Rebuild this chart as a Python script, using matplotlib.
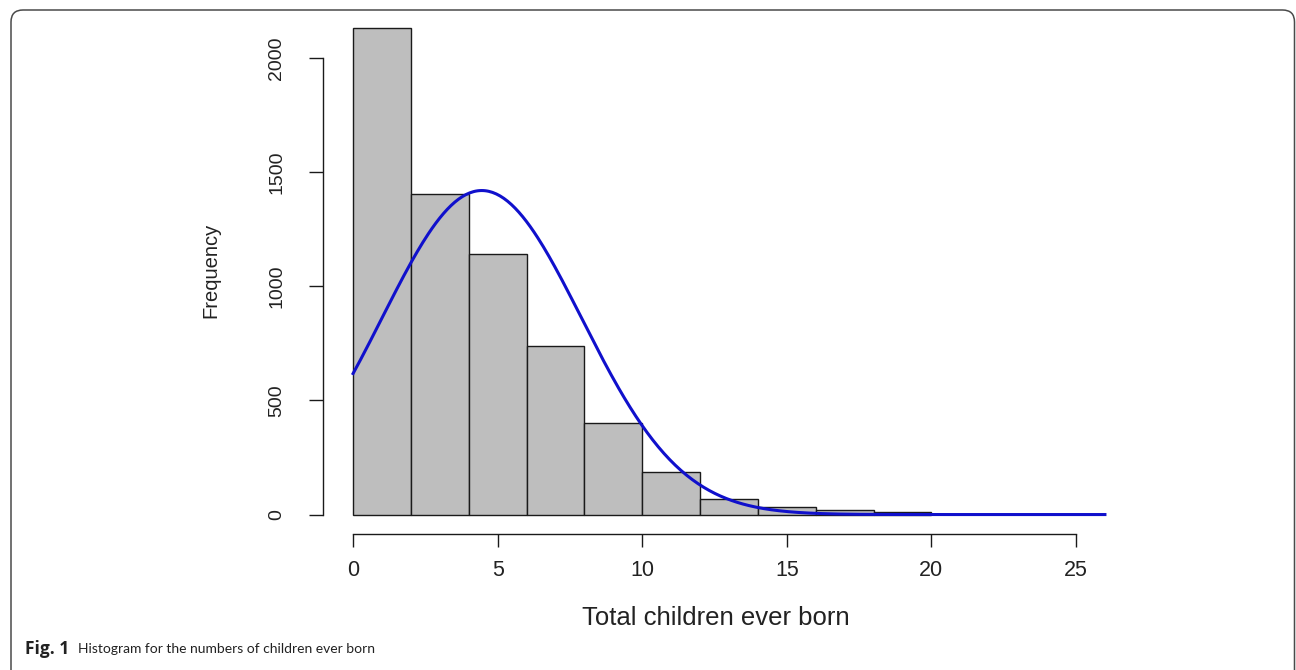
import matplotlib
matplotlib.use('Agg')
import matplotlib.pyplot as plt
import matplotlib.patches as mpatches
from matplotlib.transforms import IdentityTransform
import numpy as np

# histogram counts, bins of width 2 from 0 to 20
bin_edges = [0, 2, 4, 6, 8, 10, 12, 14, 16, 18, 20]
counts = [2130, 1405, 1140, 740, 400, 185, 70, 35, 21, 13]
# fitted normal curve (mean, sd), drawn over 0..26
fit_mean, fit_sd = 4.45, 3.45
curve_from, curve_to = 0, 26
xticks = [0, 5, 10, 15, 20, 25]
yticks = [0, 500, 1000, 1500, 2000]

BAR = '#bebebe'; EDGE = '#1a1a1a'; CURVE = '#1010cc'; BORDER = '#4a4a4a'
CHART_FONT = ['Liberation Sans', 'DejaVu Sans']
CAP_BOLD = ['Open Sans', 'DejaVu Sans']
CAP_FONT = ['Lato', 'Open Sans', 'DejaVu Sans']

W, H = 1296, 670
fig = plt.figure(figsize=(W / 100, H / 100), dpi=100)
fig.patch.set_facecolor('white')

# rounded frame of the figure panel (pixel coords, origin bottom-left)
frame = mpatches.FancyBboxPatch((11, -14), 1283.5, H - 10 + 14,
                                boxstyle='round,pad=0,rounding_size=12',
                                transform=IdentityTransform(), facecolor='none',
                                edgecolor=BORDER, linewidth=1.1)
fig.add_artist(frame)

ax = fig.add_axes([323 / W, 1 - 534 / H, (1135 - 323) / W, (534 - 9) / H])
widths = np.diff(bin_edges)
ax.bar(bin_edges[:-1], counts, width=widths, align='edge', color=BAR,
       edgecolor=EDGE, linewidth=1.0)

n = sum(counts)
bw = widths[0]
xs = np.linspace(curve_from, curve_to, 400)
ys = n * bw * np.exp(-(xs - fit_mean) ** 2 / (2 * fit_sd ** 2)) / (fit_sd * np.sqrt(2 * np.pi))
ax.plot(xs, ys, color=CURVE, linewidth=2.2)

span_x = curve_to - curve_from
ax.set_xlim(curve_from - 0.04 * span_x, curve_to + 0.04 * span_x)
ymax = max(counts)
ax.set_ylim(-0.04 * ymax, ymax * 1.04)

for s in ['top', 'right']:
    ax.spines[s].set_visible(False)
for s in ['bottom', 'left']:
    ax.spines[s].set_color(EDGE)
    ax.spines[s].set_linewidth(1.0)
ax.spines['bottom'].set_bounds(xticks[0], xticks[-1])
ax.spines['left'].set_bounds(yticks[0], yticks[-1])

ax.set_xticks(xticks)
ax.set_yticks(yticks)
ax.set_xticklabels([str(t) for t in xticks], fontsize=15.5, family=CHART_FONT, color='#222222')
ax.set_yticklabels([str(t) for t in yticks], fontsize=14, family=CHART_FONT, color='#222222',
                   rotation=90, va='center')
ax.tick_params(axis='x', length=9, width=1.0, color=EDGE, pad=10)
ax.tick_params(axis='y', length=10, width=1.0, color=EDGE, pad=17)

fig.text(211 / W, 1 - 270 / H, 'Frequency', rotation=90, ha='center', va='center',
         fontsize=14.5, family=CHART_FONT, color='#222222')
fig.text(716 / W, 1 - 618 / H, 'Total children ever born', ha='center', va='center',
         fontsize=18.5, family=CHART_FONT, color='#222222')

# caption
fig.text(25 / W, 1 - 649 / H, 'Fig. 1', ha='left', va='center',
         fontsize=12.5, fontweight='bold', family=CAP_BOLD, color='#222222')
fig.text(78 / W, 1 - 649 / H, 'Histogram for the numbers of children ever born',
         ha='left', va='center', fontsize=10, family=CAP_FONT, color='#222222')

fig.savefig('out.png', dpi=100, facecolor='white')
plt.close(fig)
